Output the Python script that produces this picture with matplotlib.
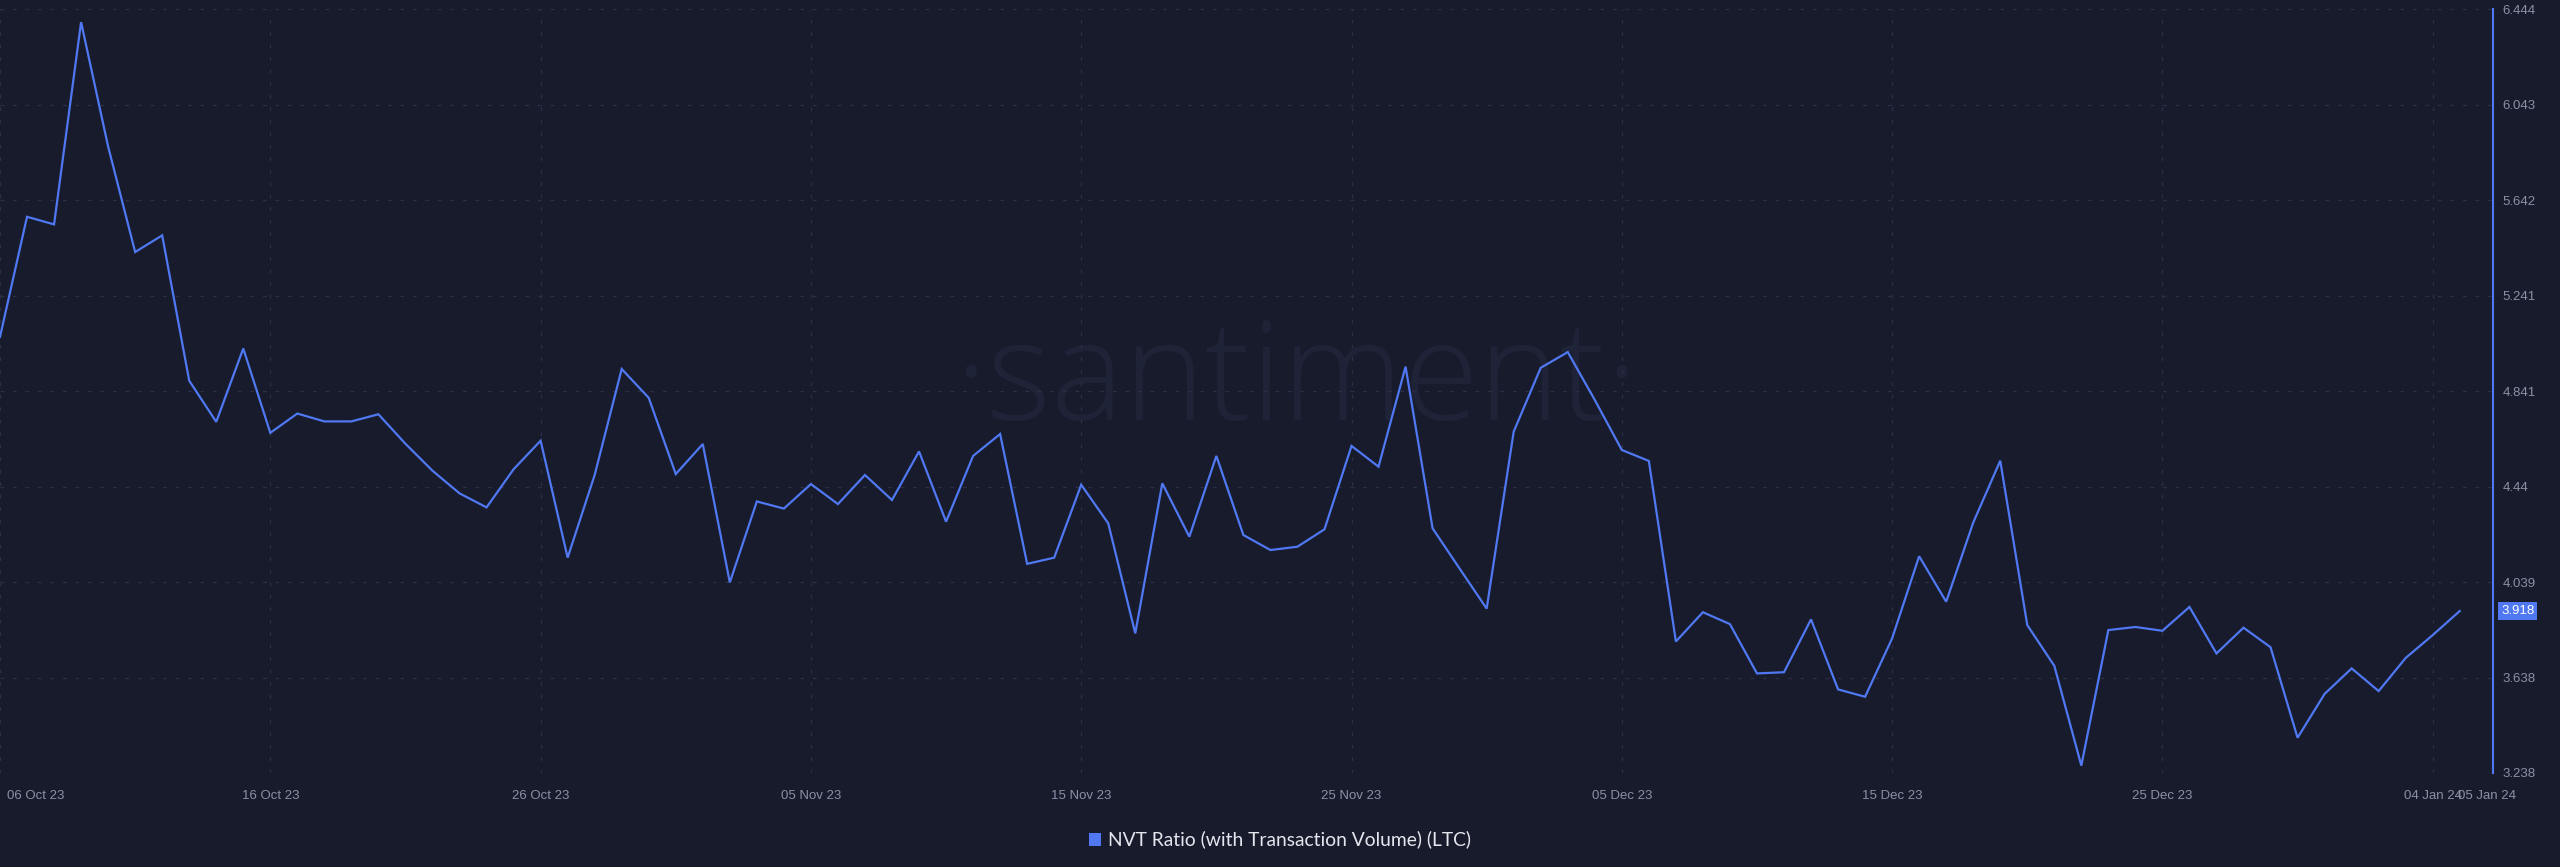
import matplotlib
matplotlib.use("Agg")
import matplotlib.pyplot as plt
import matplotlib.dates as mdates
import matplotlib.transforms as mtrans
from matplotlib.patches import Rectangle
import pandas as pd
import numpy as np

# ---------------- data ----------------
start_date = "2023-10-06"
nvt_values = [
    5.069, 5.573, 5.541, 6.390, 5.868, 5.425, 5.495, 4.885, 4.712, 5.020,
    4.666, 4.747, 4.714, 4.714, 4.744, 4.620, 4.507, 4.412, 4.353, 4.513,
    4.633, 4.142, 4.489, 4.934, 4.813, 4.493, 4.619, 4.038, 4.378, 4.348,
    4.451, 4.367, 4.489, 4.384, 4.588, 4.293, 4.569, 4.661, 4.116, 4.142,
    4.448, 4.286, 3.824, 4.454, 4.230, 4.569, 4.237, 4.174, 4.188, 4.261,
    4.611, 4.524, 4.944, 4.265, 4.096, 3.928, 4.671, 4.939, 5.005, 4.804,
    4.594, 4.548, 3.790, 3.913, 3.863, 3.656, 3.661, 3.883, 3.589, 3.558,
    3.803, 4.148, 3.957, 4.289, 4.549, 3.859, 3.688, 3.269, 3.838, 3.851,
    3.835, 3.935, 3.740, 3.848, 3.766, 3.386, 3.570, 3.677, 3.582, 3.721,
    3.817, 3.918,
]
dates = pd.date_range(start_date, periods=len(nvt_values), freq="D")

y_ticks = [3.238, 3.638, 4.039, 4.44, 4.841, 5.241, 5.642, 6.043, 6.444]
y_tick_labels = ["3.238", "3.638", "4.039", "4.44", "4.841", "5.241", "5.642", "6.043", "6.444"]
x_tick_dates = ["2023-10-06", "2023-10-16", "2023-10-26", "2023-11-05", "2023-11-15",
                "2023-11-25", "2023-12-05", "2023-12-15", "2023-12-25", "2024-01-04",
                "2024-01-05"]
x_tick_labels = ["06 Oct 23", "16 Oct 23", "26 Oct 23", "05 Nov 23", "15 Nov 23",
                 "25 Nov 23", "05 Dec 23", "15 Dec 23", "25 Dec 23", "04 Jan 24",
                 "05 Jan 24"]
last_value_label = "3.918"
series_name = "NVT Ratio (with Transaction Volume) (LTC)"

# ---------------- style ----------------
BG = "#181b2c"
LINE = "#4f78f2"
TICK = "#8a90a6"
GRID = "#2b3046"
WATER = "#1f2338"

W, H = 2560, 867
fig = plt.figure(figsize=(W / 100, H / 100), dpi=100, facecolor=BG)
ax_left, ax_right_px, ax_top_px, ax_bot_px = 0, 2493, 9.3, 773
ax = fig.add_axes([ax_left / W, 1 - ax_bot_px / H, (ax_right_px - ax_left) / W,
                   (ax_bot_px - ax_top_px) / H])
ax.set_facecolor(BG)

# watermark (inside axes, beneath the line)
ax.text(1296 / W, 1 - 420 / H, "\u00b7santiment\u00b7", ha="center", va="baseline",
        fontsize=99, color=WATER, family="Open Sans", fontweight="light",
        transform=fig.transFigure, zorder=0.5)

x_num = mdates.date2num(dates)
ax.plot(x_num, nvt_values, color=LINE, lw=1.6, solid_joinstyle="miter", zorder=3)

x0 = mdates.date2num(pd.Timestamp(start_date))
ax.set_xlim(x0, x0 + 92.23)
ax.set_ylim(y_ticks[0], y_ticks[-1])

# grid
for yv in y_ticks:
    ax.axhline(yv, color=GRID, lw=0.9, ls=(0, (3, 7)), zorder=1)
xt_num = [mdates.date2num(pd.Timestamp(d)) for d in x_tick_dates]
for xv in xt_num[:-1]:
    ax.axvline(xv, color=GRID, lw=0.9, ls=(0, (3, 7)), zorder=1)

# spines
for s in ["left", "top", "bottom"]:
    ax.spines[s].set_visible(False)
ax.spines["right"].set_color(LINE)
ax.spines["right"].set_linewidth(1.5)

ax.yaxis.tick_right()
ax.set_yticks(y_ticks)
ax.set_yticklabels(y_tick_labels)
ax.tick_params(axis="y", length=0, pad=7, labelsize=9.5, labelcolor=TICK)
for lab in ax.get_yticklabels():
    lab.set_family("Liberation Sans")

ax.set_xticks(xt_num)
ax.set_xticklabels(x_tick_labels)
ax.tick_params(axis="x", length=0, pad=12, labelsize=9.5, labelcolor=TICK)
xl = ax.get_xticklabels()
for lab in xl:
    lab.set_family("Liberation Sans")
xl[0].set_horizontalalignment("left")
xl[0].set_transform(xl[0].get_transform() + mtrans.ScaledTranslation(7 / 100, 0, fig.dpi_scale_trans))
xl[-1].set_horizontalalignment("left")
xl[-1].set_transform(xl[-1].get_transform() + mtrans.ScaledTranslation(-2 / 100, 0, fig.dpi_scale_trans))

# last value label
bt = mtrans.blended_transform_factory(fig.transFigure, ax.transData)
ax.text(2501 / W, nvt_values[-1], last_value_label, transform=bt, ha="left", va="center",
        fontsize=9.5, family="Liberation Sans", color="white", zorder=5, clip_on=False,
        bbox=dict(boxstyle="square,pad=0.2", fc=LINE, ec="none"))

# legend
fig.patches.append(Rectangle((1089 / W, 1 - 846 / H), 12 / W, 13 / H, transform=fig.transFigure,
                             facecolor=LINE, edgecolor="none"))
fig.text(1108 / W, 1 - 839 / H, series_name, ha="left", va="center", fontsize=13.9,
         color="#e4e6ee", family="Lato")

fig.savefig("out.png", dpi=100, facecolor=BG)
